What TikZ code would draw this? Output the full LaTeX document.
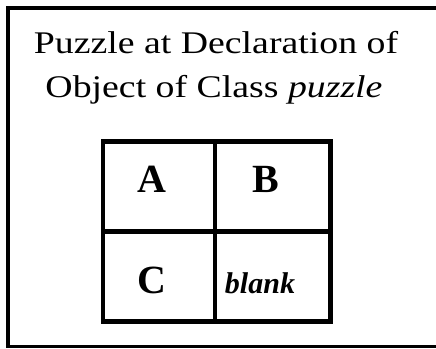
\documentclass[tikz,border=0pt]{standalone}
\usepackage{fontspec}
\setmainfont{Liberation Serif}
\newfontfamily\titlefont[FakeStretch=1.2]{Liberation Serif}
\begin{document}
\begin{tikzpicture}[x=1pt,y=-1pt,
  cell/.style={draw,line width=4.5pt,minimum width=#1,minimum height=90pt,inner sep=0pt,anchor=north west},
  title/.style={font=\titlefont\fontsize{31.5}{31.5}\selectfont,anchor=base,inner sep=0pt},
  big/.style={font=\fontsize{40}{40}\bfseries\selectfont,inner sep=0pt},
  blk/.style={font=\fontsize{30}{30}\bfseries\itshape\selectfont,inner sep=0pt,anchor=base}]
\useasboundingbox (0,0) rectangle (436,348);
\coordinate (fr1) at (436,8);
\coordinate (fr2) at (8,8);
\coordinate (fr3) at (8,346.5);
\coordinate (fr4) at (436,346.5);
\draw[line width=3.5pt] (fr1) -- (fr2) -- (fr3) -- (fr4);
\node[title] (t1) at (216,53) {Puzzle at Declaration of};
\node[title] (t2) at (214,97) {Object of Class \textit{puzzle}};
\node[cell=112pt] (ca) at (100.5,139) {};
\node[cell=115.5pt] (cb) at (212.5,139) {};
\node[cell=112pt] (cc) at (100.5,229) {};
\node[cell=115.5pt] (cd) at (212.5,229) {};
\node[big] (la) at (152,179) {A};
\node[big] (lb) at (266,179) {B};
\node[big] (lc) at (152,280) {C};
\node[blk] (ld) at (260,293) {blank};
\end{tikzpicture}
\end{document}
